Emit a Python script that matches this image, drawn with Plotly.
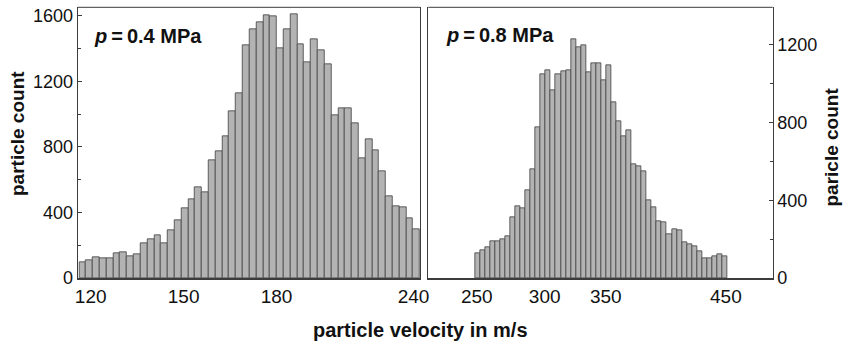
import numpy as np
import plotly.graph_objects as go

# ---- data ----
left_counts = [94, 108, 129, 122, 122, 153, 159, 135, 145, 214,
               235, 261, 214, 292, 353, 424, 481, 551, 522, 716,
               775, 863, 1016, 1128, 1424, 1516, 1561, 1603, 1597, 1404,
               1516, 1612, 1428, 1316, 1459, 1393, 1306, 991, 1036, 1036,
               945, 730, 847, 781, 649, 496, 435, 430, 363, 296]
right_counts = [126, 141, 160, 188, 191, 198, 217, 310, 370, 361,
                451, 559, 777, 1049, 1066, 963, 1049, 1061, 1066, 1225,
                1187, 1199, 1058, 1104, 1104, 1015, 1092, 903, 808, 728,
                762, 587, 576, 550, 399, 365, 292, 284, 224, 249,
                247, 186, 175, 163, 138, 100, 100, 114, 124, 112]

left_bin_start, left_bin_w = 116.3, 2.2
right_bin_start, right_bin_w = 248.7, 4.05
left_centers = left_bin_start + left_bin_w * (np.arange(len(left_counts)) + 0.5)
right_centers = right_bin_start + right_bin_w * (np.arange(len(right_counts)) + 0.5)

left_tick_vals = [120, 150, 180, 224.2]
left_tick_text = ["120", "150", "180", "240"]
right_tick_vals = [250.1, 304.6, 353.6, 450.0]
right_tick_text = ["250", "300", "350", "450"]

left_y_ticks = [0, 400, 800, 1200, 1600]
right_y_ticks = [0, 400, 800, 1200]

W, H = 843, 350
FONT = "Liberation Sans, Arial, Helvetica, sans-serif"
BAR_FILL = "#b3b3b3"
BAR_EDGE = "#4f4f4f"
FRAME = "#3c3c3c"

fig = go.Figure()
fig.add_trace(go.Bar(x=left_centers, y=left_counts, width=left_bin_w,
                     marker=dict(color=BAR_FILL, line=dict(color=BAR_EDGE, width=0.9)),
                     xaxis="x", yaxis="y", showlegend=False, hoverinfo="x+y"))
fig.add_trace(go.Bar(x=right_centers, y=right_counts, width=right_bin_w,
                     marker=dict(color=BAR_FILL, line=dict(color=BAR_EDGE, width=0.9)),
                     xaxis="x2", yaxis="y2", showlegend=False, hoverinfo="x+y"))

ydom = [1 - 278 / H, 1 - 7.3 / H]
xdom1 = [77.7 / W, 420 / W]
xdom2 = [428.3 / W, 772.7 / W]

xtickfont = dict(family=FONT, size=19, color="#111")
ytickfont = dict(family=FONT, size=18, color="#111")

fig.update_layout(
    width=W, height=H,
    margin=dict(l=0, r=0, t=0, b=0, autoexpand=False),
    paper_bgcolor="white", plot_bgcolor="white",
    bargap=0,
    font=dict(family=FONT, color="#111"),
    xaxis=dict(domain=xdom1, range=[115.8, 226.3], anchor="y", automargin=False,
               tickvals=left_tick_vals, ticktext=left_tick_text, ticks="",
               showgrid=False, zeroline=False, showline=True, linecolor=FRAME,
               linewidth=2, mirror=False, tickfont=xtickfont, fixedrange=True),
    yaxis=dict(domain=ydom, range=[0, 1653], anchor="x", automargin=False,
               tickvals=left_y_ticks, ticks="inside", ticklen=4, tickcolor=FRAME,
               minor=dict(dtick=200, ticks="inside", ticklen=3, tickcolor=FRAME, showgrid=False),
               showgrid=False, zeroline=False, showline=True, linecolor=FRAME,
               linewidth=1, mirror=True, tickfont=ytickfont),
    xaxis2=dict(domain=xdom2, range=[211.2, 487.6], anchor="y2", automargin=False,
                tickvals=right_tick_vals, ticktext=right_tick_text, ticks="",
                showgrid=False, zeroline=False, showline=True, linecolor=FRAME,
                linewidth=2, mirror=False, tickfont=xtickfont, fixedrange=True),
    yaxis2=dict(domain=ydom, range=[0, 1392], anchor="x2", side="right", automargin=False,
                tickvals=right_y_ticks, ticks="inside", ticklen=4, tickcolor=FRAME,
                minor=dict(dtick=200, ticks="inside", ticklen=3, tickcolor=FRAME, showgrid=False),
                showgrid=False, zeroline=False, showline=True, linecolor=FRAME,
                linewidth=1, mirror=True, tickfont=ytickfont),
)

# top frame lines
for xr, yr in (("x domain", "y domain"), ("x2 domain", "y2 domain")):
    fig.add_shape(type="line", xref=xr, yref=yr, x0=0, x1=1, y0=1, y1=1,
                  line=dict(color=FRAME, width=1))

title_font = dict(family=FONT, size=19, color="#111")
fig.add_annotation(text="<b>particle count</b>", xref="paper", yref="paper",
                   x=18 / W, y=1 - 134 / H, showarrow=False, textangle=-90,
                   font=title_font, xanchor="center", yanchor="middle")
fig.add_annotation(text="<b>paricle count</b>", xref="paper", yref="paper",
                   x=1.0, y=1 - 147 / H, showarrow=False, textangle=-90,
                   font=title_font, xanchor="right", yanchor="middle", borderpad=0)
fig.add_annotation(text="<b>particle velocity in m/s</b>", xref="paper", yref="paper",
                   x=420 / W, y=1 - 330 / H, showarrow=False,
                   font=dict(family=FONT, size=20, color="#111"),
                   xanchor="center", yanchor="middle")

label_font = dict(family=FONT, size=20, color="#111")
fig.add_annotation(text="<b><i>p</i>\u2009=\u20090.4 MPa</b>", xref="paper", yref="paper",
                   x=92 / W, y=1 - 36 / H, showarrow=False, font=label_font,
                   xanchor="left", yanchor="middle")
fig.add_annotation(text="<b><i>p</i>\u2009=\u20090.8 MPa</b>", xref="paper", yref="paper",
                   x=444 / W, y=1 - 35 / H, showarrow=False, font=label_font,
                   xanchor="left", yanchor="middle")

fig.write_html("out.html")
